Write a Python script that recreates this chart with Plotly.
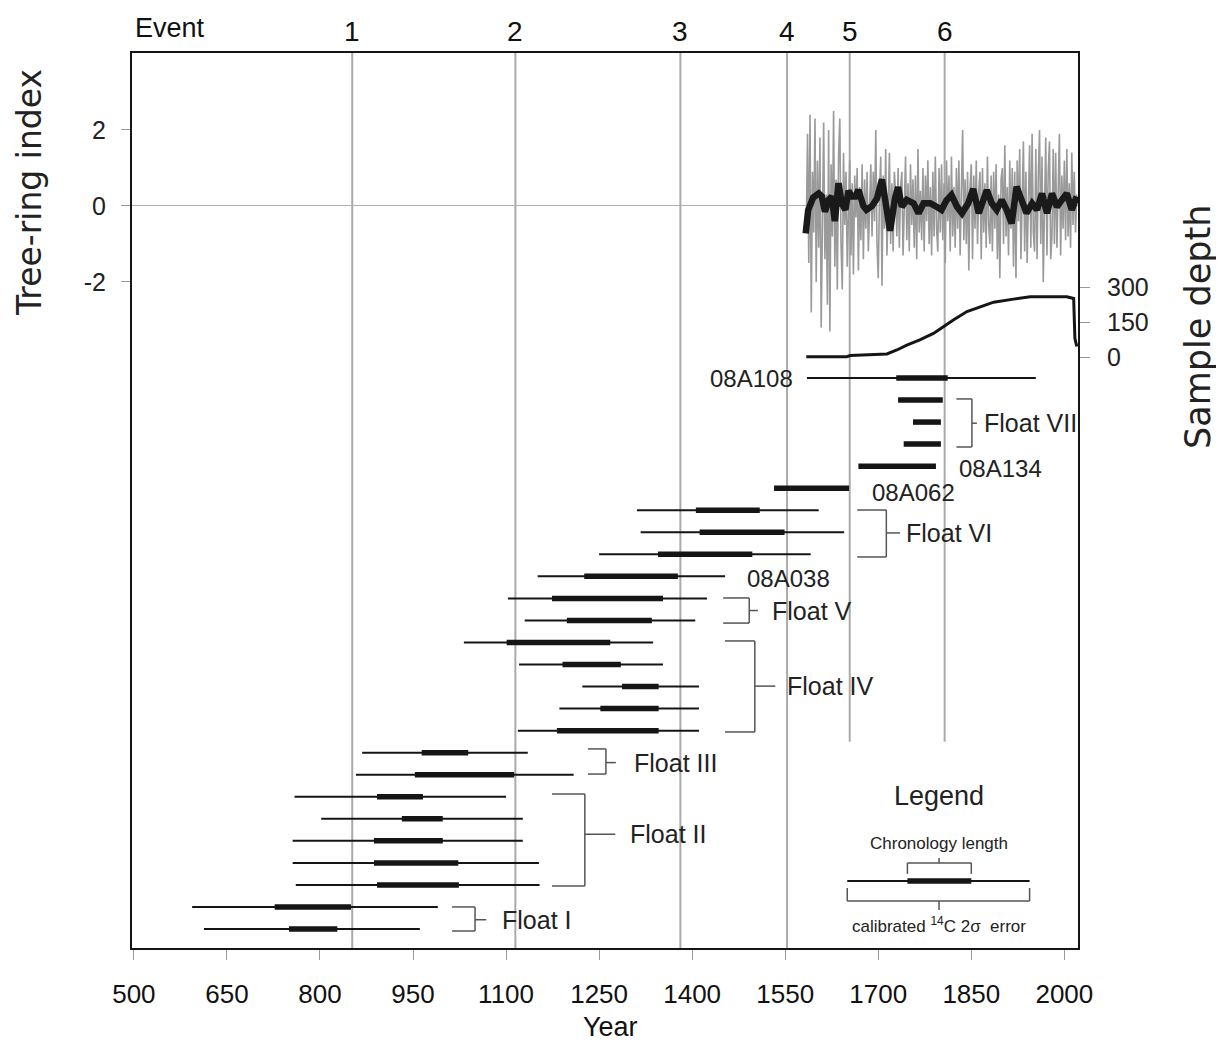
import plotly.graph_objects as go

# ---------------- data ----------------
year_ticks = [500, 650, 800, 950, 1100, 1250, 1400, 1550, 1700, 1850, 2000]
index_ticks = [-2, 0, 2]
index_tick_text = ["-2", "0", "2"]
depth_ticks = [0, 150, 300]

event_labels = ["1", "2", "3", "4", "5", "6"]
event_years = [852, 1115, 1381, 1553, 1654, 1807]
event_bottom_rows = [None, None, None, None, 16.5, 16.5]

# raw tree-ring index (grey), every 2 years from 1584
raw_start = 1584
raw_step = 2
raw_index = [
    -0.6, 1.9, -1.5, 2.4, -2.8, 0.9, -0.7, 2.3, -2.0, 1.2,
    -1.1, 1.8, -3.2, 0.6, 2.2, -1.4, 0.3, -2.6, 2.0, -3.3,
    1.1, -0.8, 2.5, -1.6, 0.7, -2.2, 1.3, 2.3, -1.0, -2.2,
    1.4, -0.5, 0.9, -1.6, 0.4, 1.2, -1.3, 0.6, -1.8, 0.8,
    -0.3, 1.0, -1.7, 0.5, -0.9, 1.1, -1.4, 0.7, -0.6, 0.9,
    -1.2, 0.4, 1.1, -0.8, 0.9, -0.4, 2.0, -1.0, -1.9, 0.3,
    1.3, -2.1, 0.8, -0.6, 1.5, -1.3, 0.2, 1.4, -1.0, 0.6,
    -1.2, 0.9, 0.3, -0.8, 1.0, -1.1, 0.5, 0.9, -1.3, 0.4,
    1.3, -0.9, 0.6, -1.2, 1.1, -0.5, 0.7, -1.1, 0.8, -1.4,
    1.5, -0.7, 0.4, -0.9, 1.0, -1.2, 0.8, -0.4, 1.2, -1.0,
    0.5, -1.3, 0.9, -0.8, 1.3, -0.6, -1.2, 1.0, -0.7, 1.1,
    -0.9, 0.6, -1.5, 1.2, -0.4, 0.8, -1.2, 1.3, -0.8, 0.5,
    -1.1, 1.0, -0.6, 1.2, -1.3, 0.4, 2.0, -0.9, 0.7, -1.0,
    0.9, -1.7, 0.5, 1.1, -1.4, 0.8, -0.6, 1.2, -1.0, 0.4,
    0.9, -1.4, 1.0, -0.7, 0.6, -1.1, 1.3, -0.5, -1.0, 0.8,
    -1.2, 0.9, -0.6, 1.1, -1.4, 0.3, -1.9, 0.7, 1.0, -1.0,
    1.6, -0.8, 0.5, -1.3, 1.2, -0.6, 1.0, -1.6, 0.9, -1.9,
    1.2, -0.4, 1.5, -1.4, 0.6, 1.7, -1.2, 0.9, -1.5, 0.4,
    1.6, -1.1, 1.9, -0.7, -1.2, 1.5, -1.4, 0.8, 2.0, -1.0,
    1.3, -2.0, 0.6, 1.8, -1.3, 0.9, 1.7, -1.4, -0.8, 1.5,
    -1.0, 1.4, -1.1, 0.7, 1.9, -1.3, 0.8, -0.6, 1.2, -0.9,
    1.5, -0.8, 0.6, -1.1, 1.4, -0.5, 0.9, -0.7, 0.3,
]

# smoothed chronology (black)
smooth_years = [1583, 1587, 1595, 1604, 1609, 1614, 1620, 1625, 1630, 1636,
                1641, 1647, 1652, 1657, 1663, 1668, 1676, 1681, 1690, 1698,
                1706, 1714, 1719, 1727, 1732, 1738, 1746, 1757, 1765, 1773,
                1784, 1794, 1802, 1810, 1818, 1827, 1835, 1845, 1853, 1862,
                1870, 1875, 1883, 1891, 1899, 1907, 1915, 1923, 1931, 1939,
                1948, 1956, 1964, 1972, 1980, 1988, 1996, 2004, 2012, 2020]
smooth_index = [-0.72, -0.11, 0.22, 0.33, 0.25, -0.15, 0.16, 0.25, -0.40, 0.60,
                0.07, -0.10, 0.40, 0.25, 0.25, 0.42, 0.00, -0.10, 0.00, 0.20,
                0.70, -0.30, -0.65, 0.20, 0.50, -0.02, 0.16, 0.07, -0.19, 0.07,
                0.07, -0.02, -0.10, 0.15, 0.29, -0.02, -0.19, 0.07, 0.45, -0.19,
                0.16, 0.42, 0.07, -0.10, 0.16, -0.10, -0.46, 0.51, 0.16, -0.19,
                0.07, -0.10, 0.33, -0.19, 0.33, -0.02, 0.16, 0.33, -0.10, 0.25]

# sample depth
depth_years = [1584, 1649, 1655, 1692, 1714, 1730, 1746, 1767, 1789, 1805,
               1821, 1843, 1864, 1886, 1918, 1945, 2004, 2015, 2017, 2020]
depth_values = [1, 1, 6, 9, 13, 30, 51, 73, 101, 130,
                159, 195, 216, 235, 248, 258, 258, 251, 80, 45]

# dated samples: calibrated 14C 2-sigma range (thin) and chronology length (thick)
bar_rows = list(range(26))
c14_start = [1585, None, None, None, None, None, 1311, 1317, 1250, 1151,
             1103, 1130, 1032, 1121, 1223, 1186, 1119, 868, 858, 759,
             802, 756, 756, 761, 594, 613]
c14_end = [1954, None, None, None, None, None, 1604, 1645, 1591, 1453,
           1424, 1405, 1337, 1353, 1411, 1411, 1411, 1135, 1209, 1100,
           1127, 1127, 1153, 1154, 990, 961]
chron_start = [1729, 1732, 1756, 1741, 1668, 1532, 1406, 1412, 1345, 1226,
               1174, 1198, 1101, 1191, 1287, 1252, 1182, 964, 953, 892,
               932, 887, 887, 892, 727, 750]
chron_end = [1812, 1804, 1801, 1801, 1793, 1653, 1509, 1549, 1497, 1377,
             1353, 1335, 1268, 1285, 1346, 1346, 1346, 1039, 1113, 966,
             998, 998, 1023, 1024, 850, 828]

# floating chronology groups (brackets)
float_names = ["Float VII", "Float VI", "Float V", "Float IV", "Float III", "Float II", "Float I"]
float_open = [1826, 1666, 1450, 1453, 1232, 1174, 1013]
float_vert = [1851, 1713, 1492, 1501, 1261, 1227, 1050]
float_tick = [1859, 1735, 1506, 1534, 1277, 1276, 1068]
float_label_x = [1867, 1742, 1526, 1550, 1303, 1297, 1090]
float_row_top = [0.95, 5.99, 9.98, 11.93, 16.83, 18.87, 24.0]
float_row_bot = [3.13, 8.12, 11.12, 16.06, 17.97, 23.05, 25.09]
float_row_mid = [2.05, 7.03, 10.55, 13.98, 17.45, 20.7, 24.58]

sample_names = ["08A108", "08A134", "08A062", "08A038"]
sample_label_x = [1566, 1827, 1687, 1485]
sample_label_row = [0.0, 4.1, 5.2, 9.1]
sample_anchor = ["right", "left", "left", "left"]

# legend sketch
legend_c14 = [1650, 1944]
legend_chron = [1747, 1850]
legend_mid = 1798
legend_rows = {"title": 18.97, "chron_text": 21.1, "chron_brk_top": 22.0, "chron_brk_bot": 22.5,
               "chron_tick": 21.78, "bar": 22.82, "c14_brk_top": 23.14, "c14_brk_bot": 23.73,
               "c14_tick": 24.14, "c14_text": 24.82}

# ---------------- figure ----------------
INK = "#151515"
BRK = "#555555"
SANS = "Liberation Sans, Arial, sans-serif"
TITLE = "DejaVu Sans, sans-serif"

fig = go.Figure()

raw_years = [raw_start + raw_step * i for i in range(len(raw_index))]
fig.add_trace(go.Scatter(x=raw_years, y=raw_index, mode="lines",
                         line=dict(color="#9a9a9a", width=1.6), yaxis="y", hoverinfo="skip"))
fig.add_trace(go.Scatter(x=smooth_years, y=smooth_index, mode="lines",
                         line=dict(color="#1a1a1a", width=6.5), yaxis="y", hoverinfo="skip"))
fig.add_trace(go.Scatter(x=depth_years, y=depth_values, mode="lines",
                         line=dict(color=INK, width=3), yaxis="y2", hoverinfo="skip"))

# thin bars
tx, ty = [], []
for r, s, e in zip(bar_rows, c14_start, c14_end):
    if s is None:
        continue
    tx += [s, e, None]
    ty += [r, r, None]
fig.add_trace(go.Scatter(x=tx, y=ty, mode="lines", line=dict(color=INK, width=2),
                         yaxis="y3", hoverinfo="skip"))
# thick bars
kx, ky = [], []
for r, s, e in zip(bar_rows, chron_start, chron_end):
    kx += [s, e, None]
    ky += [r, r, None]
fig.add_trace(go.Scatter(x=kx, y=ky, mode="lines", line=dict(color=INK, width=5.5),
                         yaxis="y3", hoverinfo="skip"))

# legend bars
fig.add_trace(go.Scatter(x=legend_c14, y=[legend_rows["bar"]] * 2, mode="lines",
                         line=dict(color=INK, width=2), yaxis="y3", hoverinfo="skip"))
fig.add_trace(go.Scatter(x=legend_chron, y=[legend_rows["bar"]] * 2, mode="lines",
                         line=dict(color=INK, width=5.5), yaxis="y3", hoverinfo="skip"))

shapes = []
for yr, bot in zip(event_years, event_bottom_rows):
    shapes.append(dict(type="line", xref="x", yref="y3", x0=yr, x1=yr,
                       y0=-14.746, y1=(25.862 if bot is None else bot),
                       line=dict(color="#aaaaaa", width=2), layer="below"))


def seg(x0, y0, x1, y1, color=BRK, width=1.5):
    shapes.append(dict(type="line", xref="x", yref="y3", x0=x0, x1=x1, y0=y0, y1=y1,
                       line=dict(color=color, width=width)))


for o, v, t, rt, rb, rm in zip(float_open, float_vert, float_tick, float_row_top, float_row_bot, float_row_mid):
    seg(o, rt, v, rt)
    seg(v, rt, v, rb)
    seg(o, rb, v, rb)
    seg(v, rm, t, rm)

lr = legend_rows
seg(legend_chron[0], lr["chron_brk_bot"], legend_chron[0], lr["chron_brk_top"])
seg(legend_chron[0], lr["chron_brk_top"], legend_chron[1], lr["chron_brk_top"])
seg(legend_chron[1], lr["chron_brk_top"], legend_chron[1], lr["chron_brk_bot"])
seg(legend_mid, lr["chron_brk_top"], legend_mid, lr["chron_tick"])
seg(legend_c14[0], lr["c14_brk_top"], legend_c14[0], lr["c14_brk_bot"])
seg(legend_c14[0], lr["c14_brk_bot"], legend_c14[1], lr["c14_brk_bot"])
seg(legend_c14[1], lr["c14_brk_bot"], legend_c14[1], lr["c14_brk_top"])
seg(legend_mid, lr["c14_brk_bot"], legend_mid, lr["c14_tick"])

ann = []
for name, x, r in zip(float_names, float_label_x, float_row_mid):
    ann.append(dict(x=x, y=r, xref="x", yref="y3", text=name, showarrow=False,
                    xanchor="left", yanchor="middle", font=dict(family=SANS, size=25, color="#222")))
for name, x, r, a in zip(sample_names, sample_label_x, sample_label_row, sample_anchor):
    ann.append(dict(x=x, y=r, xref="x", yref="y3", text=name, showarrow=False,
                    xanchor=a, yanchor="middle", font=dict(family=SANS, size=24, color="#222")))
ann.append(dict(x=legend_mid, y=lr["title"], xref="x", yref="y3", text="Legend", showarrow=False,
                xanchor="center", yanchor="middle", font=dict(family=SANS, size=27, color="#222")))
ann.append(dict(x=legend_mid, y=lr["chron_text"], xref="x", yref="y3", text="Chronology length",
                showarrow=False, xanchor="center", yanchor="middle",
                font=dict(family=SANS, size=17, color="#222")))
ann.append(dict(x=legend_mid, y=lr["c14_text"], xref="x", yref="y3",
                text="calibrated <sup>14</sup>C 2σ  error", showarrow=False, xanchor="center",
                yanchor="middle", font=dict(family=SANS, size=17, color="#222")))

ann.append(dict(x=0.001, y=1.028, xref="paper", yref="paper", text="Event", showarrow=False,
                xanchor="left", yanchor="middle", font=dict(family=SANS, size=27, color="#111")))
for lab, yr in zip(event_labels, event_years):
    ann.append(dict(x=yr, y=1.0235, xref="x", yref="paper", text=lab, showarrow=False,
                    xanchor="center", yanchor="middle", font=dict(family=SANS, size=28, color="#111")))

ann.append(dict(x=-0.1078, y=0.8436, xref="paper", yref="paper", text="Tree-ring index",
                textangle=-90, showarrow=False, xanchor="center", yanchor="middle",
                font=dict(family=TITLE, size=33, color="#222")))
ann.append(dict(x=1.1268, y=0.6939, xref="paper", yref="paper", text="Sample depth",
                textangle=-90, showarrow=False, xanchor="center", yanchor="middle",
                font=dict(family=TITLE, size=35, color="#222")))
ann.append(dict(x=0.5053, y=-0.0883, xref="paper", yref="paper", text="Year", showarrow=False,
                xanchor="center", yanchor="middle", font=dict(family=SANS, size=27, color="#111")))

# the page body adds an 8 px offset, so the figure is 8 px smaller and margins shifted
fig.update_layout(
    width=1216, height=1035,
    margin=dict(l=124, r=146, t=45, b=95, autoexpand=False),
    paper_bgcolor="white", plot_bgcolor="white",
    showlegend=False,
    shapes=shapes, annotations=ann,
    xaxis=dict(range=[497, 2022], tickvals=year_ticks, ticks="outside", ticklen=10,
               tickcolor="#999", tickwidth=1, showline=True, linecolor=INK, linewidth=2,
               mirror=True, showgrid=False, zeroline=False, ticklabelstandoff=12,
               tickfont=dict(family=SANS, size=26, color="#111"), automargin=False),
    yaxis=dict(range=[-19.526, 4.026], tickvals=index_ticks, ticktext=index_tick_text,
               ticks="outside", ticklen=9,
               tickcolor="#999", tickwidth=1, showline=True, linecolor=INK, linewidth=2,
               showgrid=False, zeroline=True, zerolinecolor="#b0b0b0", zerolinewidth=1,
               ticklabelstandoff=10, tickfont=dict(family=SANS, size=25, color="#222"),
               automargin=False),
    yaxis2=dict(range=[-2532.9, 1302.9], overlaying="y", side="right", tickvals=depth_ticks,
                ticks="outside", ticklen=10, tickcolor="#999", tickwidth=1, showline=True,
                linecolor=INK, linewidth=2, showgrid=False, zeroline=False,
                ticklabelstandoff=12, tickfont=dict(family=SANS, size=25, color="#222"),
                automargin=False),
    yaxis3=dict(range=[25.862, -14.746], overlaying="y", visible=False),
)

fig.write_html("out.html")
